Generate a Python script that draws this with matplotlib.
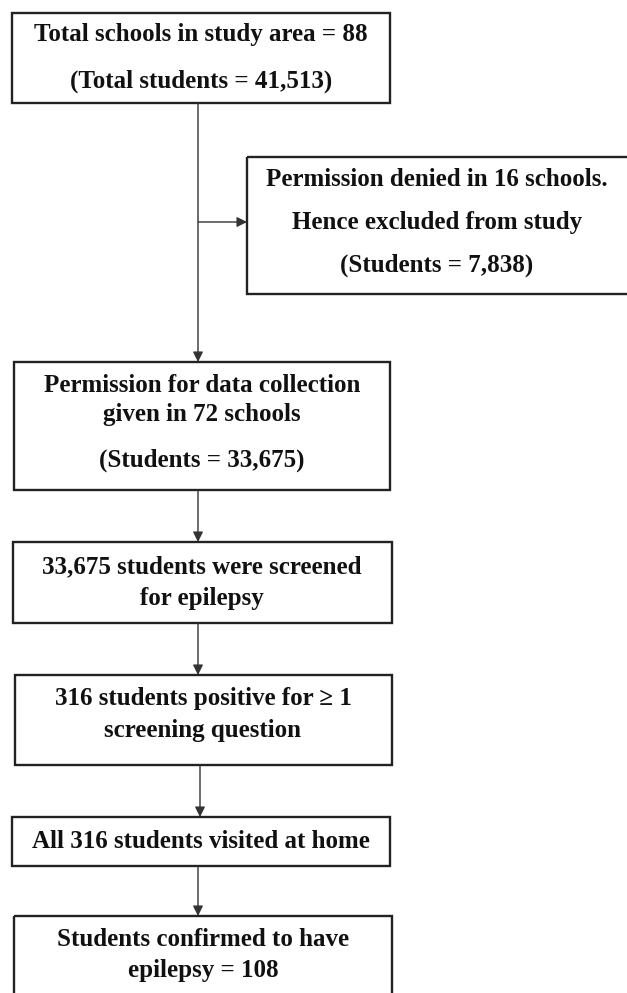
"""plot.py: flow chart of school screening for epilepsy"""
import matplotlib
matplotlib.use("Agg")
from matplotlib import pyplot as plt
from matplotlib.patches import Rectangle

# box texts, one list of lines per box
box_total = ["Total schools in study area = 88", "(Total students = 41,513)"]
box_denied = ["Permission denied in 16 schools.", "Hence excluded from study",
              "(Students = 7,838)"]
box_given = ["Permission for data collection", "given in 72 schools",
             "(Students = 33,675)"]
box_screened = ["33,675 students were screened", "for epilepsy"]
box_positive = ["316 students positive for \u2265 1", "screening question"]
box_visited = ["All 316 students visited at home"]
box_confirmed = ["Students confirmed to have", "epilepsy = 108"]

# layout in pixels (x0, x1, y0, y1), text centre x, line centres y (from top)
boxes = [
    (box_total, (12, 390, 13, 103), 201, [35, 81]),
    (box_denied, (247, 640, 157, 294), 437, [180, 222, 265]),
    (box_given, (14, 390, 362, 490), 202, [385, 415, 460]),
    (box_screened, (13, 392, 542, 623), 202, [567, 598]),
    (box_positive, (15, 392, 675, 765), 203, [699, 730]),
    (box_visited, (12, 390, 817, 866), 201, [842]),
    (box_confirmed, (14, 392, 916, 1010), 203, [940, 971]),
]

W, H = 627, 993
fig = plt.figure(figsize=(W / 100, H / 100), dpi=100)
ax = fig.add_axes([0, 0, 1, 1])
ax.set_xlim(0, W)
ax.set_ylim(H, 0)
ax.axis("off")

font = dict(family="Liberation Serif", fontweight="bold", fontsize=18,
            color="#111111", ha="center", va="center")

for lines, (x0, x1, y0, y1), xc, ys in boxes:
    ax.add_patch(Rectangle((x0, y0), x1 - x0, y1 - y0, fill=False,
                           edgecolor="#222222", linewidth=1.7))
    for txt, y in zip(lines, ys):
        ax.text(xc, y, txt, **font)


def arrow(x0, y0, x1, y1):
    ax.annotate("", xy=(x1, y1), xytext=(x0, y0),
                arrowprops=dict(arrowstyle="-|>", color="#333333", lw=1.0,
                                mutation_scale=15, shrinkA=0, shrinkB=0))


arrow(198, 103, 198, 362)
arrow(198, 222, 247, 222)
arrow(198, 490, 198, 542)
arrow(198, 623, 198, 675)
arrow(200, 765, 200, 817)
arrow(198, 866, 198, 916)

fig.savefig("out.png", dpi=100)
